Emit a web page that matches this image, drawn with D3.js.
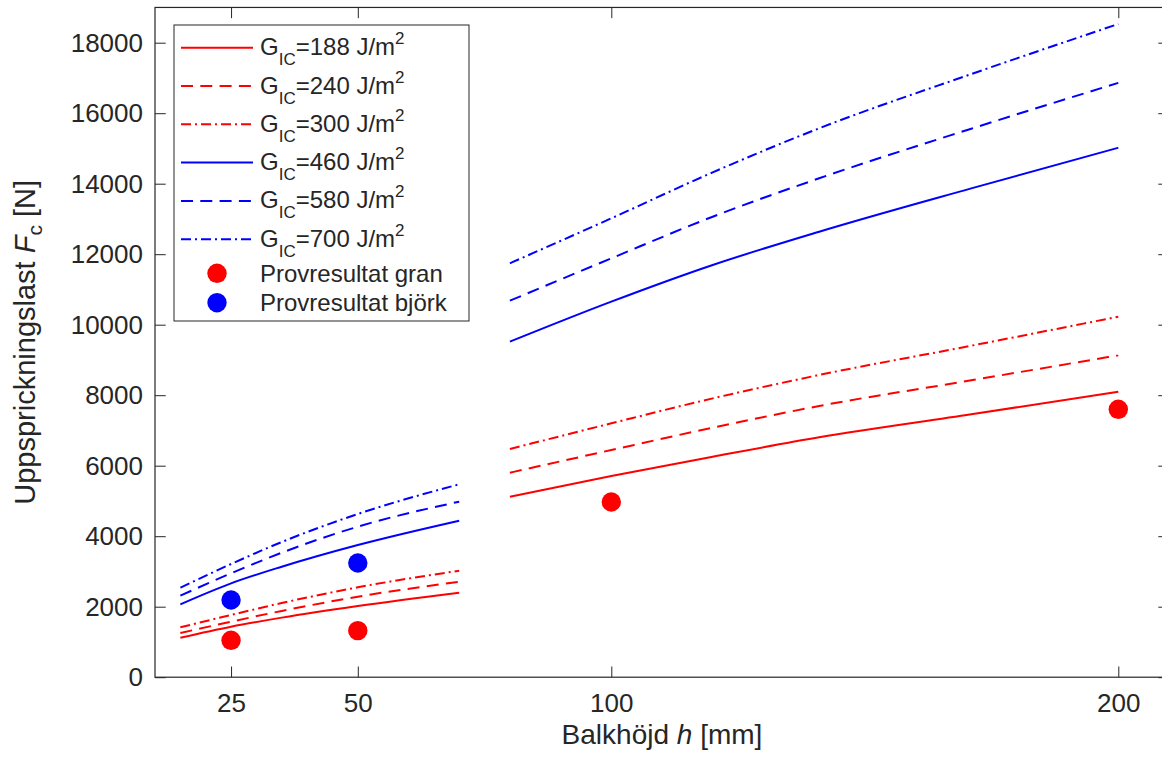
<!DOCTYPE html>
<html>
<head>
<meta charset="utf-8">
<script src="https://cdn.jsdelivr.net/npm/d3@7"></script>
<style>
  html, body { margin: 0; padding: 0; background: #fff; }
  svg { display: block; }
  text { font-family: "Liberation Sans", Arial, Helvetica, sans-serif; fill: #262626; }
</style>
</head>
<body>
<svg id="chart" width="1162" height="758"></svg>
<script>
// ---- data ----
const hGroup1 = [15, 25, 35, 50, 70];
const hGroup2 = [80, 100, 120, 141, 171, 200];

const gicLabels = ["188", "240", "300", "460", "580", "700"];
const seriesColors = ["red", "red", "red", "blue", "blue", "blue"];
const seriesStyles = ["solid", "dashed", "dashdot", "solid", "dashed", "dashdot"];

const g188_1 = [1121, 1433, 1690, 2020, 2397];
const g240_1 = [1254, 1575, 1880, 2284, 2709];
const g300_1 = [1415, 1765, 2105, 2550, 3021];
const g460_1 = [2068, 2663, 3135, 3750, 4440];
const g580_1 = [2312, 2947, 3532, 4270, 4980];
const g700_1 = [2539, 3211, 3835, 4630, 5472];

const g188_2 = [5121, 5708, 6255, 6805, 7458, 8099];
const g240_2 = [5801, 6445, 7078, 7694, 8422, 9132];
const g300_2 = [6474, 7202, 7910, 8573, 9404, 10227];
const g460_2 = [9518, 10653, 11694, 12638, 13868, 15021];
const g580_2 = [10681, 11883, 13064, 14153, 15560, 16860];
const g700_2 = [11742, 13018, 14322, 15571, 17110, 18530];

const testH_gran = [25, 50, 100, 200];
const testF_gran = [1047, 1320, 4970, 7600];
const testH_bjork = [25, 50];
const testF_bjork = [2190, 3240];

const xTicks = [25, 50, 100, 200];
const yTicks = [0, 2000, 4000, 6000, 8000, 10000, 12000, 14000, 16000, 18000];

const legendTest = ["Provresultat gran", "Provresultat björk"];
const xLabel = ["Balkhöjd ", "h", " [mm]"];

// ---- layout ----
const svg = d3.select("#chart");
const pLeft = 155, pRight = 1169, pTop = 7.45, pBottom = 677.2;
const x = d3.scaleLinear().domain([10, 210]).range([pLeft, pRight]);
const y = d3.scaleLinear().domain([0, 19000]).range([pBottom, pTop]);
const axisColor = "#262626";
const tickLen = 10.7;

const dashFor = s => s === "dashed" ? "12,7.3" : s === "dashdot" ? "10,4,2,4" : null;

// axes
const gx = svg.append("g").attr("transform", `translate(0,${pBottom})`)
  .call(d3.axisBottom(x).tickValues(xTicks).tickSize(-tickLen).tickSizeOuter(0).tickPadding(16).tickFormat(d3.format("d")));
const gxTop = svg.append("g").attr("transform", `translate(0,${pTop})`)
  .call(d3.axisTop(x).tickValues(xTicks).tickSize(-tickLen).tickSizeOuter(0).tickFormat(""));
const gy = svg.append("g").attr("transform", `translate(${pLeft},0)`)
  .call(d3.axisLeft(y).tickValues(yTicks).tickSize(-tickLen).tickSizeOuter(0).tickPadding(12).tickFormat(d3.format("d")));
const gyRight = svg.append("g").attr("transform", `translate(${pRight},0)`)
  .call(d3.axisRight(y).tickValues(yTicks).tickSize(-tickLen).tickSizeOuter(0).tickFormat(""));

[gx, gxTop, gy, gyRight].forEach(g => {
  g.select(".domain").remove();
  g.selectAll(".tick line").attr("stroke", axisColor).attr("stroke-width", 1);
  g.selectAll(".tick text").style("font-size", "26px").attr("fill", axisColor)
    .style("font-family", '"Liberation Sans", Arial, Helvetica, sans-serif');
});

// box
svg.append("rect")
  .attr("x", pLeft).attr("y", pTop)
  .attr("width", pRight - pLeft).attr("height", pBottom - pTop)
  .attr("fill", "none").attr("stroke", axisColor).attr("stroke-width", 1.2);

// curves
const group1 = [g188_1, g240_1, g300_1, g460_1, g580_1, g700_1];
const group2 = [g188_2, g240_2, g300_2, g460_2, g580_2, g700_2];
const line = d3.line().x(d => x(d[0])).y(d => y(d[1])).curve(d3.curveMonotoneX);

const plotG = svg.append("g");
function drawGroup(hs, groupVals) {
  groupVals.forEach((vals, i) => {
    const pts = hs.map((h, k) => [h, vals[k]]);
    plotG.append("path")
      .attr("d", line(pts))
      .attr("fill", "none")
      .attr("stroke", seriesColors[i])
      .attr("stroke-width", 2)
      .attr("stroke-dasharray", dashFor(seriesStyles[i]));
  });
}
drawGroup(hGroup1, group1);
drawGroup(hGroup2, group2);

// test points
const r = 9.7;
plotG.selectAll("circle.gran").data(testH_gran.map((h, i) => [h, testF_gran[i]]))
  .enter().append("circle").attr("class", "gran")
  .attr("cx", d => x(d[0])).attr("cy", d => y(d[1])).attr("r", r).attr("fill", "red");
plotG.selectAll("circle.bjork").data(testH_bjork.map((h, i) => [h, testF_bjork[i]]))
  .enter().append("circle").attr("class", "bjork")
  .attr("cx", d => x(d[0])).attr("cy", d => y(d[1])).attr("r", r).attr("fill", "blue");

// axis labels
svg.append("text")
  .attr("x", (pLeft + pRight) / 2).attr("y", 744)
  .attr("text-anchor", "middle").style("font-size", "28px")
  .call(t => {
    t.append("tspan").text(xLabel[0]);
    t.append("tspan").style("font-style", "italic").text(xLabel[1]);
    t.append("tspan").text(xLabel[2]);
  });

svg.append("text")
  .attr("transform", `translate(35,${(pTop + pBottom) / 2}) rotate(-90)`)
  .attr("text-anchor", "middle").style("font-size", "29px")
  .call(t => {
    t.append("tspan").text("Uppsprickningslast ");
    t.append("tspan").style("font-style", "italic").text("F");
    t.append("tspan").style("font-size", "21px").attr("dy", 7).text("c");
    t.append("tspan").attr("dy", -7).text(" [N]");
  });

// legend
const lg = svg.append("g");
lg.append("rect").attr("x", 174).attr("y", 25).attr("width", 295).attr("height", 296)
  .attr("fill", "#fff").attr("stroke", axisColor).attr("stroke-width", 1);

gicLabels.forEach((lab, i) => {
  const yy = 47.7 + 38.3 * i;
  lg.append("line").attr("x1", 181).attr("x2", 253).attr("y1", yy).attr("y2", yy)
    .attr("stroke", seriesColors[i]).attr("stroke-width", 2)
    .attr("stroke-dasharray", dashFor(seriesStyles[i]));
  const t = lg.append("text").attr("x", 260).attr("y", yy + 7.5).style("font-size", "24px");
  t.append("tspan").text("G");
  t.append("tspan").style("font-size", "17px").attr("dy", 10).text("IC");
  t.append("tspan").attr("dy", -10).text(`=${lab} J/m`);
  t.append("tspan").style("font-size", "17px").attr("dy", -11).text("2");
});

["red", "blue"].forEach((c, j) => {
  const yy = 273.3 + 29.4 * j;
  lg.append("circle").attr("cx", 217).attr("cy", yy).attr("r", r).attr("fill", c);
  lg.append("text").attr("x", 260).attr("y", yy + 8.5).style("font-size", "24px").text(legendTest[j]);
});
</script>
</body>
</html>
